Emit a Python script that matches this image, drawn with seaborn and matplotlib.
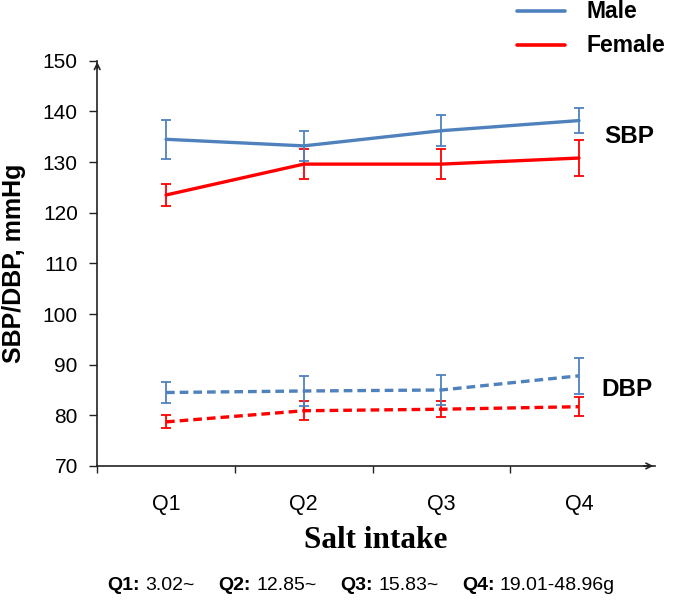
import matplotlib
matplotlib.use("Agg")
import matplotlib.pyplot as plt
import seaborn as sns
import pandas as pd
from matplotlib.lines import Line2D
from matplotlib.offsetbox import TextArea, HPacker, AnchoredOffsetbox

quartiles = ["Q1", "Q2", "Q3", "Q4"]
male_sbp = [134.5, 133.2, 136.2, 138.2]
male_sbp_err = [3.8, 3.0, 3.0, 2.5]
female_sbp = [123.5, 129.6, 129.6, 130.8]
female_sbp_err = [2.2, 3.0, 2.9, 3.5]
male_dbp = [84.5, 84.8, 85.0, 87.8]
male_dbp_err = [2.1, 3.0, 3.0, 3.5]
female_dbp = [78.7, 80.9, 81.2, 81.7]
female_dbp_err = [1.3, 1.9, 1.6, 1.9]
ranges = ["3.02~", "12.85~", "15.83~", "19.01-48.96g"]

colors = {"Male": "#4F81BD", "Female": "#FF0000"}

rows = []
for sex, meas, vals, errs in [
    ("Male", "SBP", male_sbp, male_sbp_err),
    ("Female", "SBP", female_sbp, female_sbp_err),
    ("Male", "DBP", male_dbp, male_dbp_err),
    ("Female", "DBP", female_dbp, female_dbp_err),
]:
    for i, q in enumerate(quartiles):
        rows.append({"pos": i + 1, "quartile": q, "sex": sex, "measure": meas,
                     "value": vals[i], "err": errs[i]})
df = pd.DataFrame(rows)

sns.set_style("white")
plt.rcParams["font.family"] = ["Liberation Sans", "DejaVu Sans"]
plt.rcParams["text.color"] = "black"
plt.rcParams["axes.labelcolor"] = "black"
plt.rcParams["xtick.color"] = "black"
plt.rcParams["ytick.color"] = "black"

fig = plt.figure(figsize=(6.75, 6.02), dpi=100)
ax = fig.add_axes([0.144, 0.226, 0.826, 0.673])

sns.lineplot(data=df, x="pos", y="value", hue="sex", style="measure",
             palette=colors, dashes={"SBP": "", "DBP": (2.6, 1.5)},
             linewidth=2.4, legend=False, ax=ax, errorbar=None)

for (sex, meas), g in df.groupby(["sex", "measure"]):
    ax.errorbar(g["pos"], g["value"], yerr=g["err"], fmt="none",
                ecolor=colors[sex], elinewidth=1.3, capsize=3.8, capthick=1.3)

ax.set_xlim(0.5, 4.55)
ax.set_ylim(70, 150)
ax.set_yticks(range(70, 151, 10))
ax.set_xticks(range(1, 5))
ax.set_xticklabels(quartiles)
ax.set_xticks([0.5, 1.5, 2.5, 3.5], minor=True)
ax.tick_params(axis="y", left=True, length=6, width=1, direction="out",
               color="#222222", labelsize=15, pad=8)
ax.tick_params(axis="x", which="major", length=0, labelsize=15.5, pad=20)
ax.tick_params(axis="x", which="minor", bottom=True, length=5, width=1,
               direction="out", color="#222222")
for s in ["top", "right"]:
    ax.spines[s].set_visible(False)
for s in ["left", "bottom"]:
    ax.spines[s].set_color("#222222")
    ax.spines[s].set_linewidth(1.2)

# arrow heads on axes
ax.annotate("", xy=(4.56, 70), xytext=(4.45, 70),
            arrowprops=dict(arrowstyle="->", color="#222222", lw=1.2), annotation_clip=False)
ax.annotate("", xy=(0.5, 150.3), xytext=(0.5, 148),
            arrowprops=dict(arrowstyle="->", color="#222222", lw=1.2), annotation_clip=False)

ax.set_ylabel("SBP/DBP, mmHg", fontsize=18, fontweight="bold", labelpad=12)
ax.set_xlabel("Salt intake", fontsize=22.5, fontweight="bold",
              family="Liberation Serif", labelpad=8)

ax.text(4.18, 135, "SBP", fontsize=17.5, fontweight="bold", ha="left", va="center")
ax.text(4.165, 85.1, "DBP", fontsize=17.5, fontweight="bold", ha="left", va="center")

# legend drawn in figure pixels
for name, ypx in [("Male", 11), ("Female", 45)]:
    yf = 1 - ypx / 602
    fig.add_artist(Line2D([517 / 675, 565 / 675], [yf, yf], color=colors[name], lw=2.6))
    fig.text(586 / 675, yf, name, fontsize=16.5, fontweight="bold", ha="left", va="center")

# footnote: bold quartile name + range
parts = []
for q, r in zip(quartiles, ranges):
    parts.append(HPacker(children=[
        TextArea(q + ":", textprops=dict(fontsize=14, fontweight="bold")),
        TextArea(r, textprops=dict(fontsize=14))], sep=4, pad=0))
note = HPacker(children=parts, sep=17, pad=0, align="baseline")
box = AnchoredOffsetbox(loc="center", child=note, frameon=False, pad=0,
                        bbox_to_anchor=(0.535, 1 - 585 / 602),
                        bbox_transform=fig.transFigure, borderpad=0)
fig.add_artist(box)

fig.savefig("out.png", dpi=100)
